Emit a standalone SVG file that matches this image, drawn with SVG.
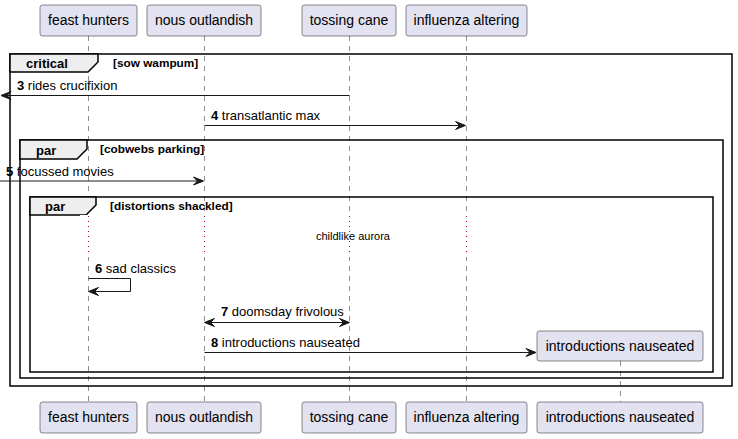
<svg xmlns="http://www.w3.org/2000/svg" width="738" height="439" viewBox="0 0 738 439">
<style>
.box{fill:#E2E2F0;stroke:#181818;stroke-width:0.5}
.pt{font-family:"Liberation Sans",Arial,sans-serif;font-size:14px;fill:#000;text-anchor:middle}
.life{stroke:#181818;stroke-width:0.5;stroke-dasharray:5,5;fill:none}
.dot{stroke:#A80036;stroke-width:1;stroke-dasharray:1,4;fill:none}
.frame{fill:none;stroke:#000;stroke-width:1.5}
.tab{fill:#EEEEEE;stroke:#000;stroke-width:1.5}
.ft{font-family:"Liberation Sans",Arial,sans-serif;font-size:13px;font-weight:bold;fill:#000}
.gt{font-family:"Liberation Sans",Arial,sans-serif;font-size:11.8px;font-weight:bold;fill:#000}
.msg{stroke:#181818;stroke-width:1;fill:none}
.head{fill:#181818;stroke:#181818;stroke-width:1}
.mt{font-family:"Liberation Sans",Arial,sans-serif;font-size:13px;fill:#000}
.dt{font-family:"Liberation Sans",Arial,sans-serif;font-size:11px;fill:#000}
</style>
<g id="lifelines">
<line class="life" x1="88.5" y1="36" x2="88.5" y2="402"/>
<line class="life" x1="204.5" y1="36" x2="204.5" y2="402"/>
<line class="life" x1="349.5" y1="36" x2="349.5" y2="402"/>
<line class="life" x1="466.5" y1="36" x2="466.5" y2="402"/>
<line class="life" x1="620.5" y1="361" x2="620.5" y2="402"/>
</g>
<g id="frames">
<rect class="frame" x="10" y="54" width="722" height="332"/>
<polygon class="tab" points="10,54 98,54 98,62 88,72 10,72"/>
<text class="ft" x="26" y="68">critical</text>
<text class="gt" x="113" y="67">[sow wampum]</text>
<rect class="frame" x="20" y="140" width="703" height="238"/>
<polygon class="tab" points="20,140 87,140 87,149 77,159 20,159"/>
<text class="ft" x="36" y="155">par</text>
<text class="gt" x="100" y="153">[cobwebs parking]</text>
<rect class="frame" x="30" y="197" width="683" height="175"/>
<polygon class="tab" points="30,197 96,197 96,205 86,215 30,215"/>
<text class="ft" x="45" y="211">par</text>
<text class="gt" x="110" y="210">[distortions shackled]</text>
</g>
<g id="delay">
<rect x="80" y="215" width="400" height="42" fill="#FFFFFF"/>
<line class="dot" x1="88.5" y1="216" x2="88.5" y2="256"/>
<line class="dot" x1="204.5" y1="216" x2="204.5" y2="256"/>
<line class="dot" x1="349.5" y1="216" x2="349.5" y2="256"/>
<line class="dot" x1="466.5" y1="216" x2="466.5" y2="256"/>
<text class="dt" x="353" y="240" text-anchor="middle">childlike aurora</text>
</g>
<g id="p1"><rect class="box" x="40" y="5" width="97" height="31" rx="2.5"/><text class="pt" x="88.5" y="25">feast hunters</text></g>
<g id="p2"><rect class="box" x="147" y="5" width="114" height="31" rx="2.5"/><text class="pt" x="204" y="25">nous outlandish</text></g>
<g id="p3"><rect class="box" x="302" y="5" width="94" height="31" rx="2.5"/><text class="pt" x="349" y="25">tossing cane</text></g>
<g id="p4"><rect class="box" x="406" y="5" width="121" height="31" rx="2.5"/><text class="pt" x="466.5" y="25">influenza altering</text></g>
<g id="p5"><rect class="box" x="537" y="331" width="166" height="30" rx="2.5"/><text class="pt" x="620" y="351">introductions nauseated</text></g>
<g id="p1b"><rect class="box" x="40" y="402" width="97" height="31" rx="2.5"/><text class="pt" x="88.5" y="422">feast hunters</text></g>
<g id="p2b"><rect class="box" x="147" y="402" width="114" height="31" rx="2.5"/><text class="pt" x="204" y="422">nous outlandish</text></g>
<g id="p3b"><rect class="box" x="302" y="402" width="94" height="31" rx="2.5"/><text class="pt" x="349" y="422">tossing cane</text></g>
<g id="p4b"><rect class="box" x="406" y="402" width="121" height="31" rx="2.5"/><text class="pt" x="466.5" y="422">influenza altering</text></g>
<g id="p5b"><rect class="box" x="537" y="402" width="166" height="31" rx="2.5"/><text class="pt" x="620" y="422">introductions nauseated</text></g>
<g id="connectors">
<line class="msg" x1="349.5" y1="95.5" x2="3" y2="95.5"/>
<polygon class="head" points="11,91.5 1,95.5 11,99.5 7,95.5"/>
<text class="mt" x="17" y="90"><tspan font-weight="bold">3</tspan> rides crucifixion</text>
<line class="msg" x1="204.5" y1="125.5" x2="464" y2="125.5"/>
<polygon class="head" points="455.5,121.5 465.5,125.5 455.5,129.5 459.5,125.5"/>
<text class="mt" x="211" y="120"><tspan font-weight="bold">4</tspan> transatlantic max</text>
<line class="msg" x1="0" y1="181" x2="202" y2="181"/>
<polygon class="head" points="193.5,177 203.5,181 193.5,185 197.5,181"/>
<text class="mt" x="6" y="176"><tspan font-weight="bold">5</tspan> focussed movies</text>
<polyline class="msg" points="88.5,278.5 130.5,278.5 130.5,291.5 90,291.5"/>
<polygon class="head" points="98.5,287.5 88.5,291.5 98.5,295.5 94.5,291.5"/>
<text class="mt" x="95" y="273"><tspan font-weight="bold">6</tspan> sad classics</text>
<line class="msg" x1="206" y1="322.5" x2="347" y2="322.5"/>
<polygon class="head" points="214.5,318.5 204.5,322.5 214.5,326.5 210.5,322.5"/>
<polygon class="head" points="339.5,318.5 349.5,322.5 339.5,326.5 343.5,322.5"/>
<text class="mt" x="221" y="316"><tspan font-weight="bold">7</tspan> doomsday frivolous</text>
<line class="msg" x1="204.5" y1="352.5" x2="534" y2="352.5"/>
<polygon class="head" points="526,348.5 536,352.5 526,356.5 530,352.5"/>
<text class="mt" x="211" y="347"><tspan font-weight="bold">8</tspan> introductions nauseated</text>
</g>
</svg>
